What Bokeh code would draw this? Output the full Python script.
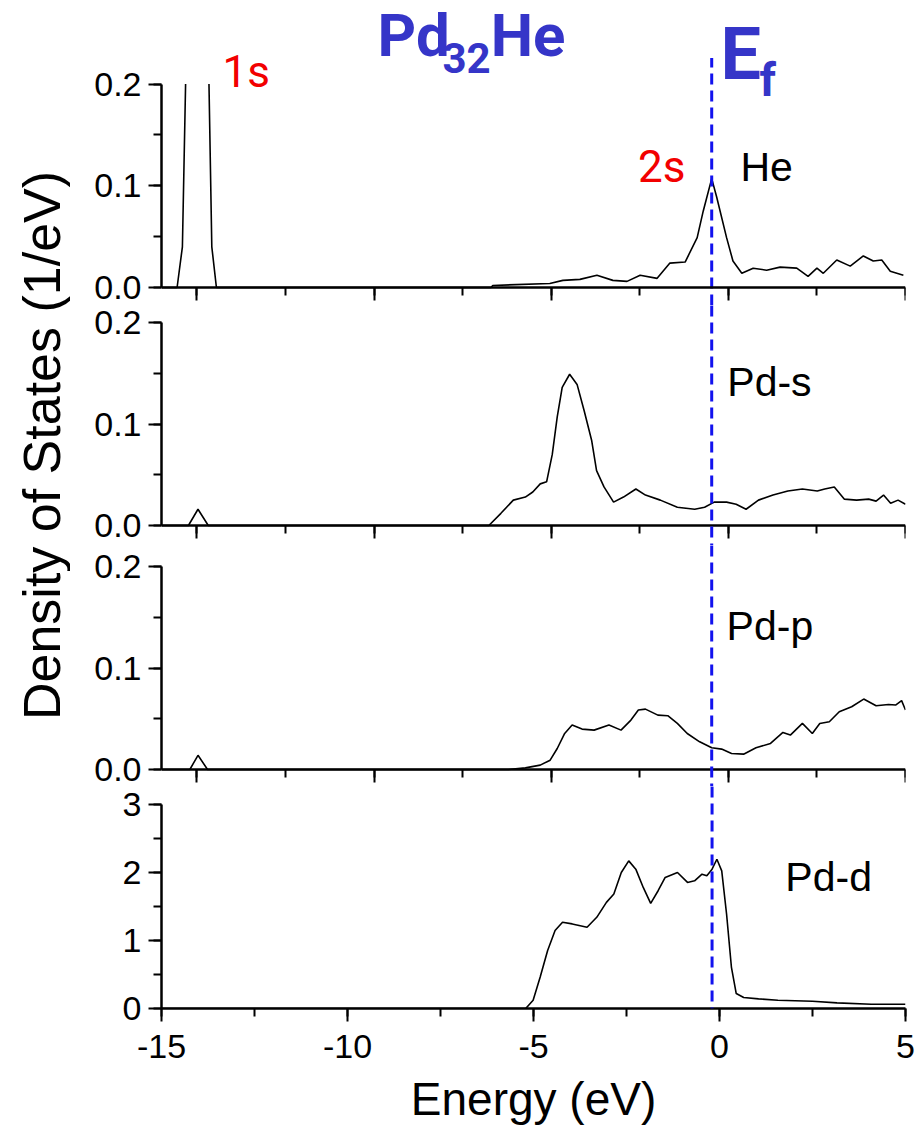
import math
from bokeh.plotting import figure
from bokeh.layouts import row, column
from bokeh.models import (Range1d, LinearAxis, SingleIntervalTicker, PrintfTickFormatter,
                          CustomJSTickFormatter, Span, Label)
from bokeh.embed import file_html
from bokeh.resources import INLINE

nan = float("nan")

# ---------------- projected densities of states (1/eV) ----------------
# He: the 1s peak runs off the top of the 0-0.2 scale (nan = off scale)
he_energy = [-16.0, -15.56, -15.41, -15.32, -15.0, -14.66, -14.58, -14.45, -6.7,
             -6.65, -5.04, -4.67, -4.19, -3.71, -3.26, -2.86, -2.49, -2.01, -1.65,
             -1.22, -0.88, -0.71, -0.47, -0.33, -0.05, 0.13, 0.38, 0.70, 1.08, 1.46,
             1.93, 2.25, 2.50, 2.68, 3.06, 3.44, 3.81, 4.09, 4.33, 4.57, 4.94]
he_dos = [0.0, 0.0, 0.04, 0.2, nan, 0.2, 0.04, 0.0, 0.0,
          0.002, 0.004, 0.007, 0.008, 0.012, 0.007, 0.006, 0.012, 0.009, 0.024,
          0.025, 0.049, 0.075, 0.107, 0.089, 0.049, 0.026, 0.014, 0.019, 0.017, 0.020,
          0.019, 0.011, 0.019, 0.014, 0.027, 0.021, 0.031, 0.026, 0.027, 0.016, 0.012]

pds_energy = [-16.0, -15.24, -14.97, -14.68, -6.76, -6.42, -6.07, -5.73, -5.52, -5.31,
              -5.13, -4.97, -4.83, -4.69, -4.48, -4.27, -4.07, -3.86, -3.72, -3.51,
              -3.24, -2.96, -2.61, -2.34, -1.92, -1.44, -0.95, -0.67, -0.40, -0.05,
              0.22, 0.50, 0.85, 1.26, 1.68, 2.09, 2.51, 2.72, 2.99, 3.27, 3.62, 3.96,
              4.17, 4.38, 4.58, 4.79, 5.0]
pds_dos = [0.0, 0.0, 0.016, 0.0, 0.0, 0.012, 0.025, 0.028, 0.033, 0.041,
           0.043, 0.070, 0.107, 0.136, 0.149, 0.139, 0.113, 0.084, 0.054, 0.038,
           0.023, 0.028, 0.036, 0.030, 0.025, 0.018, 0.016, 0.018, 0.023, 0.023,
           0.021, 0.016, 0.025, 0.030, 0.034, 0.036, 0.034, 0.036, 0.038, 0.026, 0.025, 0.026,
           0.024, 0.030, 0.022, 0.025, 0.021]

pdp_energy = [-16.0, -15.2, -14.97, -14.7, -6.21, -5.73, -5.31, -5.03, -4.83, -4.62,
              -4.41, -4.13, -3.79, -3.37, -3.03, -2.75, -2.54, -2.34, -1.99, -1.71,
              -1.44, -1.16, -0.81, -0.47, -0.19, 0.09, 0.43, 0.78, 1.19, 1.54, 1.75,
              2.09, 2.37, 2.58, 2.85, 3.13, 3.48, 3.82, 4.17, 4.52, 4.72, 4.89, 5.0]
pdp_dos = [0.0, 0.0, 0.014, 0.0, 0.0, 0.0016, 0.0043, 0.0092, 0.0207, 0.0355,
           0.0438, 0.0398, 0.0388, 0.0438, 0.0388, 0.0487, 0.0586, 0.0595, 0.0536, 0.053,
           0.0454, 0.0355, 0.0273, 0.0214, 0.0201, 0.0158, 0.0151, 0.0214, 0.0257, 0.0365, 0.0339,
           0.0454, 0.0355, 0.0454, 0.047, 0.0569, 0.0618, 0.0694, 0.0628, 0.0641, 0.0635, 0.0678, 0.0586]

pdd_energy = [-15.0, -5.21, -5.01, -4.82, -4.62, -4.42, -4.22, -3.96, -3.56, -3.30,
              -3.04, -2.84, -2.64, -2.44, -2.25, -2.05, -1.85, -1.65, -1.46, -1.13,
              -0.86, -0.67, -0.47, -0.34, -0.20, -0.07, 0.06, 0.19, 0.32, 0.45, 0.65,
              1.05, 1.57, 2.50, 3.16, 4.08, 5.0]
pdd_dos = [0.0, 0.0, 0.122, 0.463, 0.854, 1.146, 1.268, 1.244, 1.195, 1.341,
           1.561, 1.683, 2.0, 2.171, 2.049, 1.780, 1.546, 1.732, 1.927, 2.0,
           1.854, 1.878, 1.976, 1.951, 2.049, 2.195, 2.024, 1.390, 0.610, 0.220, 0.161,
           0.141, 0.122, 0.107, 0.083, 0.063, 0.063]

panel_names = ["He", "Pd-s", "Pd-p", "Pd-d"]
fermi_upper = -0.47   # Fermi level on the He / Pd-s / Pd-p energy scale
fermi_lower = -0.2    # Fermi level on the Pd-d energy scale
fermi_marker_top = 0.2255  # top end of the Fermi-level marker in the He panel

# ---------------- styling / layout ----------------
FONT = "Liberation Sans"
DECO_FONT = "Roboto"
BLUE = "#3535c8"
RED = "#f20000"
EF_BLUE = "#1212ee"
EF_DASH = "11 6"

W, H = 918, 1134
LABEL_W = 70
FRAME_LEFT, FRAME_RIGHT = 161, 905
OVERLAP = 20  # neighbouring panels share a transparent strip so tick labels have room


def stacked_y_range(frame_top, frame_bottom, top_px, zero_px, top_val):
    per = (zero_px - top_px) / top_val
    return Range1d(-(frame_bottom - zero_px) / per, top_val + (top_px - frame_top) / per)


def style_axis(ax):
    ax.axis_line_width = 2.5
    ax.axis_line_color = "black"
    ax.major_tick_line_width = 2
    ax.minor_tick_line_width = 2
    ax.major_tick_line_color = "black"
    ax.minor_tick_line_color = "black"
    ax.major_tick_out = 13
    ax.major_tick_in = 0
    ax.minor_tick_out = 8
    ax.minor_tick_in = 0
    ax.major_label_text_font = FONT
    ax.major_label_text_font_size = "34px"
    ax.major_label_text_color = "black"


def make_panel(energy, dos, x_range, fig_top, fig_bottom, frame_top,
               frame_bottom, top_px, zero_px, top_val, interval, fmt, bottom_axis):
    margin = (0, 0, 0, 0) if fig_top == 0 else (-OVERLAP, 0, 0, 0)
    p = figure(width=W - LABEL_W, height=fig_bottom - fig_top,
               x_range=x_range,
               y_range=stacked_y_range(frame_top, frame_bottom, top_px, zero_px, top_val),
               output_backend="svg", toolbar_location=None, title=None,
               x_axis_type=None, y_axis_type=None, margin=margin,
               min_border_left=FRAME_LEFT - LABEL_W, min_border_right=W - FRAME_RIGHT,
               min_border_top=frame_top - fig_top, min_border_bottom=fig_bottom - frame_bottom)
    p.outline_line_color = None
    p.background_fill_alpha = 0
    p.border_fill_alpha = 0

    yax = LinearAxis(bounds=(0, top_val),
                     ticker=SingleIntervalTicker(interval=interval, num_minor_ticks=2),
                     formatter=PrintfTickFormatter(format=fmt))
    style_axis(yax)
    yax.major_label_standoff = 7
    p.add_layout(yax, "left")

    xax = LinearAxis(ticker=SingleIntervalTicker(interval=5, num_minor_ticks=2))
    style_axis(xax)
    if bottom_axis:
        xax.formatter = PrintfTickFormatter(format="%d")
        xax.major_label_standoff = 13
        xax.axis_label = "Energy (eV)"
        xax.axis_label_text_font = FONT
        xax.axis_label_text_font_size = "46px"
        xax.axis_label_text_font_style = "normal"
        xax.axis_label_text_color = "black"
        xax.axis_label_standoff = 12
    else:
        xax.fixed_location = 0
        xax.formatter = CustomJSTickFormatter(code="return ''")
    p.add_layout(xax, "below")

    p.line(energy, dos, line_color="black", line_width=1.6)
    return p


x_upper = Range1d(-16.0, 5.0)
x_lower = Range1d(-15.0, 5.0)

# page rows: figure top/bottom, frame top/bottom, top-tick row, zero row
p_he = make_panel(he_energy, he_dos, x_upper, 0, 310, 0, 305, 83.5, 287, 0.2, 0.1, "%.1f", False)
p_s = make_panel(pds_energy, pds_dos, x_upper, 290, 550, 305, 545, 322, 525, 0.2, 0.1, "%.1f", False)
p_p = make_panel(pdp_energy, pdp_dos, x_upper, 530, 791, 545, 786, 566, 769, 0.2, 0.1, "%.1f", False)
p_d = make_panel(pdd_energy, pdd_dos, x_lower, 771, 1134, 786, 1008, 804, 1008, 3, 1, "%d", True)

# Fermi level: marker in the He panel starts just under the E_f label
p_he.segment(x0=[fermi_upper], y0=[p_he.y_range.start], x1=[fermi_upper], y1=[fermi_marker_top],
             line_color=EF_BLUE, line_width=3, line_dash=EF_DASH)
for p, ef in ((p_s, fermi_upper), (p_p, fermi_upper), (p_d, fermi_lower)):
    p.add_layout(Span(location=ef, dimension="height", line_color=EF_BLUE,
                      line_width=3, line_dash=EF_DASH))


def panel_label(p, text, x, y, size="41px", color="black", font=FONT, style="normal"):
    p.add_layout(Label(x=x, y=y, text=text, text_font=font, text_font_size=size,
                       text_color=color, text_font_style=style,
                       text_align="left", text_baseline="alphabetic"))


panel_label(p_he, panel_names[0], 0.34, 0.118)
panel_label(p_s, panel_names[1], -0.03, 0.141)
panel_label(p_p, panel_names[2], -0.05, 0.141)
panel_label(p_d, panel_names[3], 1.77, 1.93)

# orbital annotations
panel_label(p_he, "1s", -14.28, 0.212, size="44px", color=RED, font=DECO_FONT)
panel_label(p_he, "2s", -2.55, 0.118, size="44px", color=RED, font=DECO_FONT)

# compound name and Fermi level marker
panel_label(p_he, "Pd", -9.9, 0.248, size="60px", color=BLUE, font=DECO_FONT, style="bold")
panel_label(p_he, "32", -8.07, 0.226, size="42px", color=BLUE, font=DECO_FONT, style="bold")
panel_label(p_he, "He", -6.71, 0.248, size="60px", color=BLUE, font=DECO_FONT, style="bold")
panel_label(p_he, "E", -0.22, 0.229, size="72px", color=BLUE, font=DECO_FONT, style="bold")
panel_label(p_he, "f", 0.88, 0.204, size="46px", color=BLUE, font=DECO_FONT, style="bold")

# shared vertical axis title
p_lab = figure(width=LABEL_W, height=H, x_range=(0, 1), y_range=(0, 1),
               output_backend="svg", toolbar_location=None, title=None,
               x_axis_type=None, y_axis_type=None, min_border=0)
p_lab.outline_line_color = None
p_lab.add_layout(Label(x=41, y=H - 445, x_units="screen", y_units="screen",
                       text="Density of States (1/eV)", angle=math.pi / 2,
                       text_font=FONT, text_font_size="52px", text_color="black",
                       text_align="center", text_baseline="middle"))

layout = row(p_lab, column(p_he, p_s, p_p, p_d, spacing=0), spacing=0)

with open("out.html", "w") as f:
    f.write(file_html(layout, INLINE))
